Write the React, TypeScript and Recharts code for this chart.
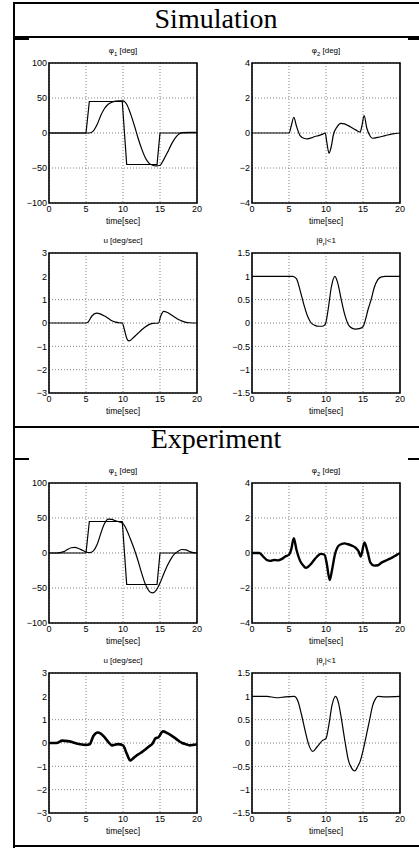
import React from 'react';
import { LineChart, Line, XAxis, YAxis, CartesianGrid, ReferenceArea } from 'recharts';

// axis ticks
const TIME_TICKS = [0, 5, 10, 15, 20];
const PHI1_TICKS = [-100, -50, 0, 50, 100];
const PHI2_TICKS = [-4, -2, 0, 2, 4];
const U_TICKS = [-3, -2, -1, 0, 1, 2, 3];
const THETA_TICKS = [-1.5, -1, -0.5, 0, 0.5, 1, 1.5];

// reference step for phi1 (same in both runs)
const refT = [0, 5, 5.45, 9.9, 10.5, 14.6, 15, 20];
const refPhi1 = [0, 0, 45, 45, -45, -45, 0, 0];

// simulation
const simPhi1T = [0, 5.45, 6, 6.5, 7, 7.5, 8, 8.5, 9, 9.5, 10, 10.5, 11, 11.5, 12, 12.5, 13, 13.5, 14, 14.5, 15, 15.5, 16, 16.5, 17, 17.5, 18, 19, 20];
const simPhi1 = [0, 0, 3, 12, 25, 35, 41, 44, 45.5, 46, 46, 41, 28, 12, -6, -22, -35, -43, -46, -47, -46, -38, -28, -17, -8, -2, 0.5, 1, 1];

const simPhi2T = [0, 5, 5.3, 5.65, 6, 6.5, 7, 7.5, 8, 8.5, 9, 9.5, 9.9, 10.1, 10.4, 10.7, 11, 11.5, 12, 12.5, 13, 13.5, 14, 14.6, 14.85, 15.15, 15.5, 16, 16.3, 17, 18, 19, 20];
const simPhi2 = [0, 0, 0.4, 0.9, 0.4, -0.15, -0.3, -0.33, -0.28, -0.2, -0.15, -0.08, 0, -0.5, -1.15, -0.8, -0.1, 0.35, 0.55, 0.52, 0.42, 0.3, 0.18, 0.05, 0.4, 1.0, 0.3, -0.2, -0.3, -0.25, -0.15, -0.05, 0];

const simUT = [0, 5, 5.3, 5.8, 6.4, 7, 7.5, 8, 8.5, 9, 9.5, 9.9, 10.2, 10.5, 10.8, 11.5, 12, 12.5, 13, 13.5, 14, 14.8, 15.1, 15.5, 16, 16.5, 17, 17.5, 18, 18.5, 19, 20];
const simU = [0, 0, 0.05, 0.3, 0.42, 0.38, 0.3, 0.2, 0.1, 0.04, 0.01, 0, -0.3, -0.65, -0.77, -0.6, -0.45, -0.3, -0.17, -0.07, -0.02, 0, 0.3, 0.5, 0.45, 0.35, 0.25, 0.15, 0.08, 0.03, 0.01, 0];

const simThetaT = [0, 5.5, 6, 6.5, 7, 7.5, 8, 8.5, 9, 9.5, 9.9, 10.3, 10.7, 11.2, 11.6, 12, 12.5, 13, 13.5, 14, 14.5, 15, 15.3, 15.7, 16.1, 16.5, 17, 17.5, 18, 20];
const simTheta = [1, 1, 0.95, 0.7, 0.4, 0.15, 0, -0.05, -0.07, -0.07, -0.03, 0.3, 0.75, 1.0, 0.85, 0.55, 0.2, -0.03, -0.11, -0.13, -0.12, -0.08, 0.05, 0.3, 0.5, 0.75, 0.93, 0.99, 1, 1];

// experiment
const expPhi1T = [0, 1, 1.5, 2, 2.5, 3, 3.5, 4, 4.5, 5, 5.5, 6, 6.5, 7, 7.5, 8, 8.5, 9, 9.5, 10, 10.5, 11, 11.5, 12, 12.5, 13, 13.5, 14, 14.5, 15, 15.5, 16, 16.5, 17, 17.5, 18, 18.5, 19, 19.5, 20];
const expPhi1 = [0, 0, 0.5, 2, 5, 7.5, 8, 6.5, 4, 1.5, 0.5, 3, 12, 28, 42, 48.5, 48, 46, 44.5, 42, 33, 20, 6, -10, -28, -44, -54, -57, -53, -43, -30, -18, -8, -1, 3, 5, 4.5, 2, 0.5, 0];

const expPhi2T = [0, 1, 1.5, 2, 2.5, 3, 3.5, 4, 4.5, 5, 5.3, 5.65, 6, 6.5, 7, 7.3, 7.8, 8.3, 8.8, 9.3, 9.8, 10.1, 10.5, 10.8, 11.2, 11.8, 12.5, 13, 13.5, 14, 14.4, 14.7, 15.2, 15.6, 16, 16.5, 17, 17.5, 18, 18.5, 19, 19.5, 20];
const expPhi2 = [0, 0, -0.2, -0.4, -0.45, -0.4, -0.42, -0.35, -0.2, -0.1, 0.2, 0.85, 0.2, -0.45, -0.75, -0.85, -0.7, -0.45, -0.2, -0.05, -0.1, -0.6, -1.55, -1.0, -0.1, 0.45, 0.55, 0.5, 0.42, 0.3, 0.1, -0.2, 0.6, 0.1, -0.55, -0.72, -0.7, -0.55, -0.45, -0.35, -0.25, -0.12, 0];

const expUT = [0, 1, 1.8, 2.5, 3, 3.5, 4.2, 5, 5.5, 6, 6.6, 7, 7.5, 8, 8.5, 9.3, 10, 10.5, 11, 11.5, 12, 12.5, 13, 13.5, 14, 14.4, 14.8, 15.4, 16, 16.5, 17, 17.5, 18, 18.5, 19, 19.5, 20];
const expU = [0, 0, 0.1, 0.08, 0.05, 0, -0.05, -0.08, -0.05, 0.3, 0.45, 0.4, 0.25, 0.05, -0.1, -0.05, -0.1, -0.45, -0.75, -0.62, -0.5, -0.4, -0.28, -0.15, -0.02, 0.2, 0.25, 0.5, 0.42, 0.33, 0.22, 0.1, 0, -0.05, -0.1, -0.08, -0.05];

const expThetaT = [0, 2, 3.3, 4.5, 5.7, 6.2, 6.7, 7.2, 7.7, 8.2, 8.8, 9.5, 10, 10.4, 10.8, 11.3, 11.7, 12.1, 12.6, 13, 13.5, 13.9, 14.3, 14.6, 15.1, 15.5, 15.9, 16.3, 16.7, 17, 18, 20];
const expTheta = [1, 1, 0.97, 0.99, 1, 0.9, 0.6, 0.25, -0.05, -0.18, -0.08, 0.05, 0.1, 0.4, 0.8, 1.0, 0.85, 0.5, 0, -0.35, -0.55, -0.6, -0.5, -0.4, -0.1, 0.2, 0.5, 0.8, 0.95, 1.0, 0.99, 1];

const zip = (t: number[], v: number[]) => t.map((x, i) => ({ t: x, v: v[i] }));
const fmt = (n: number) => String(n).replace('-', '\u2212');

const SANS = '"Liberation Sans", Arial, sans-serif';
const SERIF = '"Liberation Serif", "Times New Roman", serif';

const PLOT_W = 148;
const PLOT_H = 140;
const Y_AXIS_W = 30;

interface Series {
  data: { t: number; v: number }[];
  width: number;
  linear?: boolean;
}

interface PanelProps {
  left: number;
  top: number;
  title: React.ReactNode;
  ticks: number[];
  series: Series[];
}

function Panel({ left, top, title, ticks, series }: PanelProps) {
  const lo = ticks[0];
  const hi = ticks[ticks.length - 1];
  return (
    <>
      <div
        style={{
          position: 'absolute',
          left,
          top: top - 17,
          width: PLOT_W,
          textAlign: 'center',
          fontFamily: SANS,
          fontSize: 8,
          lineHeight: '10px',
          color: '#000',
        }}
      >
        {title}
      </div>
      <div style={{ position: 'absolute', left: left - Y_AXIS_W, top: top - 8 }}>
        <LineChart
          width={Y_AXIS_W + PLOT_W + 10}
          height={8 + PLOT_H + 15}
          margin={{ top: 8, right: 10, left: 0, bottom: 0 }}
        >
          <CartesianGrid stroke="#666" strokeDasharray="1 2" strokeWidth={0.8} />
          <XAxis
            dataKey="t"
            type="number"
            domain={[0, 20]}
            ticks={TIME_TICKS}
            allowDataOverflow
            axisLine={false}
            tickLine={false}
            tickSize={2}
            tickMargin={1}
            height={15}
            tick={{ fontSize: 9, fontFamily: SANS, fill: '#000' }}
          />
          <YAxis
            type="number"
            domain={[lo, hi]}
            ticks={ticks}
            allowDataOverflow
            axisLine={false}
            tickLine={false}
            tickSize={1}
            tickMargin={1}
            width={Y_AXIS_W}
            tickFormatter={fmt}
            tick={{ fontSize: 9, fontFamily: SANS, fill: '#000' }}
          />
          {series.map((s, i) => (
            <Line
              key={i}
              data={s.data}
              dataKey="v"
              type={s.linear ? 'linear' : 'monotone'}
              stroke="#000"
              strokeWidth={s.width}
              dot={false}
              activeDot={false}
              isAnimationActive={false}
            />
          ))}
          <ReferenceArea x1={0} x2={20} y1={lo} y2={hi} fill="none" stroke="#000" strokeWidth={1.6} />
        </LineChart>
      </div>
      <div
        style={{
          position: 'absolute',
          left,
          top: top + PLOT_H + 13,
          width: PLOT_W,
          textAlign: 'center',
          fontFamily: SANS,
          fontSize: 8.5,
          lineHeight: '10px',
          color: '#000',
        }}
      >
        time[sec]
      </div>
    </>
  );
}

const sub = (s: string) => <sub style={{ fontSize: 6, lineHeight: 0 }}>{s}</sub>;

function Section({ offset, label, fullLine }: { offset: number; label: string; fullLine: boolean }) {
  const sim = offset === 0;
  return (
    <>
      <div
        style={{
          position: 'absolute',
          left: 13,
          top: offset + 5,
          width: 406,
          textAlign: 'center',
          fontFamily: SERIF,
          fontSize: 28,
          lineHeight: '28px',
          color: '#000',
        }}
      >
        {label}
      </div>
      {fullLine && <div style={{ position: 'absolute', left: 13, top: offset + 36, width: 406, height: 2, background: '#000' }} />}
      <div style={{ position: 'absolute', left: 13, top: offset + 38, width: 16, height: 1.5, background: '#000' }} />
      <div style={{ position: 'absolute', left: 408, top: offset + 38, width: 11, height: 1.5, background: '#000' }} />
      <Panel
        left={49}
        top={offset + 63}
        title={<span>φ{sub('1')} [deg]</span>}
        ticks={PHI1_TICKS}
        series={[
          { data: zip(refT, refPhi1), width: 1.2, linear: true },
          { data: sim ? zip(simPhi1T, simPhi1) : zip(expPhi1T, expPhi1), width: 1.2 },
        ]}
      />
      <Panel
        left={252}
        top={offset + 63}
        title={<span>φ{sub('2')} [deg]</span>}
        ticks={PHI2_TICKS}
        series={[{ data: sim ? zip(simPhi2T, simPhi2) : zip(expPhi2T, expPhi2), width: sim ? 1.2 : 2.4 }]}
      />
      <Panel
        left={49}
        top={offset + 253}
        title="u [deg/sec]"
        ticks={U_TICKS}
        series={[{ data: sim ? zip(simUT, simU) : zip(expUT, expU), width: sim ? 1.2 : 2.6 }]}
      />
      <Panel
        left={252}
        top={offset + 253}
        title={<span>|θ{sub('r')}|&lt;1</span>}
        ticks={THETA_TICKS}
        series={[{ data: sim ? zip(simThetaT, simTheta) : zip(expThetaT, expTheta), width: 1.2 }]}
      />
    </>
  );
}

export default function App() {
  return (
    <div style={{ position: 'absolute', left: 0, top: 0, width: 419, height: 848, background: '#fff', overflow: 'hidden' }}>
      {/* frame */}
      <div style={{ position: 'absolute', left: 13, top: 2, width: 2, height: 846, background: '#000' }} />
      <div style={{ position: 'absolute', left: 13, top: 2, width: 406, height: 2, background: '#000' }} />
      <div style={{ position: 'absolute', left: 13, top: 426, width: 406, height: 2, background: '#000' }} />
      <div style={{ position: 'absolute', left: 13, top: 845, width: 406, height: 2, background: '#000' }} />
      <Section offset={0} label="Simulation" fullLine />
      <Section offset={420} label="Experiment" fullLine={false} />
    </div>
  );
}
